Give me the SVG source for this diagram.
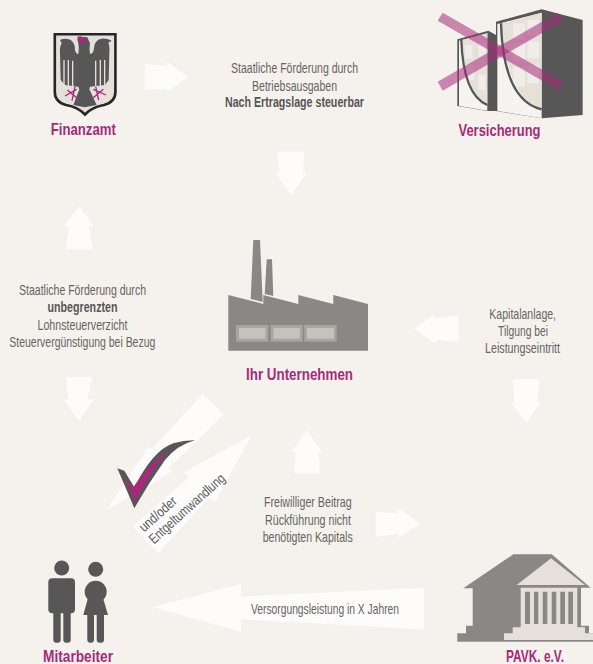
<svg xmlns="http://www.w3.org/2000/svg" width="593" height="664" viewBox="0 0 593 664">
<style>
text{font-family:"Liberation Sans Narrow","Liberation Sans",Arial,sans-serif;text-anchor:middle}
.t{font-size:14.500px;fill:#66645f}
.r{font-size:14px;fill:#5a5a5a}
.b{font-weight:700;fill:#555}
.h{font-size:16.500px;font-weight:700;fill:#a52b78}
.a{fill:#fdfcfb}
.d{fill:#575757}
.g{fill:#8a8884}
.w{fill:#f3f0ec;opacity:.75}
</style>
<rect width="593" height="664" fill="#f5f2ee"/>
<g id="connectors">
<path class="a" d="M145 64.300L167 65.700V61.700L188 77L167 91.700V88.700L145 90Z"/>
<path class="a" d="M277.300 151.700H304.300L302.700 173.300H306.700L291 195L276 173.300H279.300Z"/>
<path class="a" d="M79 206L94 226.700H89L92.300 249.300H65.700L69 226.700H64Z"/>
<path class="a" d="M65.700 377H92.300L87.300 399.300H94L79 420.700L63.300 399.300H68.300Z"/>
<path class="a" d="M458.300 315.700V341.700L436 340V344L414 329L435 314V318Z"/>
<path class="a" d="M512.700 379.300H539.300L537.300 401.700H541L526 423.300L511 401.700H514.300Z"/>
<path class="a" d="M306.700 430L322.300 451.700H318.300L320.300 473.300H294L295.700 451.700H291.700Z"/>
<path class="a" d="M375.700 511.700L398 513.300V508.300L420 523.300L398 538.300V534L375.700 536.700Z"/>
<path class="a" d="M152.700 607.300L241 584V596.700L424 587.700V629.300L241 619.300V631.700Z"/>
<path class="a" d="M202.700 394L224 414.300L168.300 468.300L171.700 471.700L106.700 510L148.300 446.700L151.700 449.300Z"/>
<path class="a" d="M251.700 435L215 501.700L209.300 497.300L158.300 553.300L132.700 526.700L189.300 476.700L184 472.300Z"/>
</g>
<g id="finanzamt">
<path d="M54.800 34.300H115.400V92Q115.400 102 104 105Q92 107 85 114.500Q78 107 66 105Q54.800 102 54.800 92Z" fill="#e6e0da" stroke="#262626" stroke-width="2.600"/>
<g transform="translate(50 30) scale(.3333)">
<path class="d" d="M30 30Q45 22 62 30Q75 38 75 60Q78 72 85 72Q88 55 85 40L82 28Q95 18 112 22L120 40Q117 60 120 72Q130 72 132 55Q133 35 148 28Q165 22 185 32L175 38Q180 50 178 70L176 150L165 165L120 170L118 178L140 225L104 232L70 225L88 178L85 170L45 165L32 150L30 70Q28 50 35 40Z"/>
<path d="M42 90V165M55 90V168M68 92V168M137 92V168M151 90V168M164 90V165" stroke="#e6e0da" stroke-width="4" fill="none"/>
<path d="M82 20Q95 16 98 22L108 34L92 42L84 32Z" fill="#a52b78"/>
<path d="M45 198L80 178M75 170L66 212M52 180L82 205M168 195L130 178M137 170L146 210M160 178L130 203" stroke="#a52b78" stroke-width="4" fill="none"/>
</g>
<text class="h" x="83.300" y="135" textLength="65" lengthAdjust="spacingAndGlyphs">Finanzamt</text>
</g>
<g id="versicherung">
<g transform="translate(420 0) scale(.3333)">
<path class="d" d="M112 118L205 92L228 105V65L365 28L488 60V345L365 355L228 333L202 333L112 318Z"/>
<path d="M117 122L202 100V332L117 318Z" fill="#f6f4f1"/>
<path d="M232 72L365 38V355L232 333Z" fill="#f6f4f1"/>
<path d="M128 120Q135 280 202 312V100Z" fill="#e7e0d9"/>
<path d="M245 70L365 38V325Q262 300 245 70Z" fill="#e7e0d9"/>
<path class="w" d="M135 135H157V175H135ZM175 130H197V170H175ZM175 225H197V270H175ZM140 195H162V240H140ZM280 70H315V118H280ZM322 60H357V105H322ZM280 130H315V180H280ZM322 125H357V175H322ZM322 195H357V250H322ZM280 200H315V260H280Z"/>
<path d="M243 70Q250 300 365 328" fill="none" stroke="#575757" stroke-width="7"/>
<path d="M124 120Q130 285 202 315" fill="none" stroke="#575757" stroke-width="7"/>
<path d="M68 38L53 62L415 270L430 245Z" fill="#a52b78" opacity=".55"/>
<path d="M53 245L68 272L430 62L413 38Z" fill="#a52b78" opacity=".55"/>
</g>
<text class="h" x="499.500" y="136" textLength="82" lengthAdjust="spacingAndGlyphs">Versicherung</text>
</g>
<g id="unternehmen">
<path class="g" d="M253.300 240H260L262.700 302L250.700 299Z"/>
<path class="g" d="M266.700 259.300H272L273.300 296L264.700 294Z"/>
<path class="g" d="M228.300 295L263.300 304V295L298.300 304V295L333.300 304V295L368 304V350.700H228.300Z"/>
<rect x="236" y="325" width="32.300" height="16.700" fill="#a9a69f"/>
<rect x="270.700" y="325" width="32" height="16.700" fill="#a9a69f"/>
<rect x="304.300" y="325" width="32.400" height="16.700" fill="#a9a69f"/>
<rect x="239" y="328" width="26.300" height="10.700" fill="#c3c2bc"/>
<rect x="273.500" y="328" width="26.400" height="10.700" fill="#c3c2bc"/>
<rect x="307" y="328" width="27" height="10.700" fill="#c3c2bc"/>
<text class="h" x="299.500" y="380" textLength="107" lengthAdjust="spacingAndGlyphs">Ihr Unternehmen</text>
</g>
<g id="haken" transform="translate(90 380) scale(.3333)">
<path class="d" d="M82 265L103 272L133 322Q190 210 250 190Q285 180 315 181Q262 195 225 240Q175 310 133 385Z"/>
<path d="M103 295L130 322Q180 245 240 207Q190 260 135 365Z" fill="#a52b78"/>
</g>
<g id="mitarbeiter">
<circle class="d" cx="61.700" cy="568" r="7.500"/>
<rect class="d" x="48.300" y="578.300" width="26.700" height="35" rx="4"/>
<rect class="d" x="53.300" y="605" width="7.400" height="37.700" rx="3"/>
<rect class="d" x="63.300" y="605" width="7.400" height="37.700" rx="3"/>
<circle class="d" cx="95.700" cy="569.300" r="7.500"/>
<circle class="d" cx="95.700" cy="591.700" r="11"/>
<path class="d" d="M88 598H103L108 615H83.300Z"/>
<rect class="d" x="87.300" y="610" width="6.700" height="32.700" rx="3"/>
<rect class="d" x="96.700" y="610" width="7.300" height="32.700" rx="3"/>
<text class="h" x="78" y="662" textLength="70" lengthAdjust="spacingAndGlyphs">Mitarbeiter</text>
</g>
<g id="pavk">
<path class="g" d="M463.300 588.300L513.300 554.300H551.700L590.700 587.700H581V625.700H589V633.300H593V641.700H457.300V633.300H466V625.700H472.700V588.300Z"/>
<path d="M516.700 585L551 558.300L585 585Z" fill="#e6e0da"/>
<path d="M520.700 587.700H577.300V627.300H585V633.300H593V640H504V633.300H512.700V627.300H520.700Z" fill="#e6e0da"/>
<path class="g" d="M525 591.700H530V624H525ZM534 591.700H538.300V624H534ZM542.700 591.700H547.300V624H542.700ZM551.700 591.700H556.300V624H551.700ZM560.300 591.700H565V624H560.300ZM568.300 591.700H573V624H568.300Z"/>
<text class="h" x="535" y="662" textLength="58" lengthAdjust="spacingAndGlyphs">PAVK. e.V.</text>
</g>
<g id="labels">
<text class="t" x="294.500" y="73" textLength="127" lengthAdjust="spacingAndGlyphs">Staatliche Förderung durch</text>
<text class="t" x="294.500" y="91" textLength="85" lengthAdjust="spacingAndGlyphs">Betriebsausgaben</text>
<text class="t b" x="294.500" y="107" textLength="139" lengthAdjust="spacingAndGlyphs">Nach Ertragslage steuerbar</text>
<text class="t" x="82.500" y="295" textLength="127" lengthAdjust="spacingAndGlyphs">Staatliche Förderung durch</text>
<text class="t b" x="82.500" y="311.700" textLength="70" lengthAdjust="spacingAndGlyphs">unbegrenzten</text>
<text class="t" x="82.500" y="330" textLength="90" lengthAdjust="spacingAndGlyphs">Lohnsteuerverzicht</text>
<text class="t" x="82.300" y="346.700" textLength="146" lengthAdjust="spacingAndGlyphs">Steuervergünstigung bei Bezug</text>
<text class="t" x="522.700" y="319" textLength="66.700" lengthAdjust="spacingAndGlyphs">Kapitalanlage,</text>
<text class="t" x="523" y="335.700" textLength="50" lengthAdjust="spacingAndGlyphs">Tilgung bei</text>
<text class="t" x="522.500" y="353" textLength="75" lengthAdjust="spacingAndGlyphs">Leistungseintritt</text>
<text class="t" x="307.800" y="507.300" textLength="87.700" lengthAdjust="spacingAndGlyphs">Freiwilliger Beitrag</text>
<text class="t" x="308" y="525" textLength="86" lengthAdjust="spacingAndGlyphs">Rückführung nicht</text>
<text class="t" x="307.700" y="541.700" textLength="90" lengthAdjust="spacingAndGlyphs">benötigten Kapitals</text>
<text class="t" x="325" y="614" textLength="148" lengthAdjust="spacingAndGlyphs">Versorgungsleistung in X Jahren</text>
<text class="r" transform="translate(161 517.500) rotate(-42)" textLength="45" lengthAdjust="spacingAndGlyphs">und/oder</text>
<text class="r" transform="translate(190 512) rotate(-42)" textLength="97" lengthAdjust="spacingAndGlyphs">Entgeltumwandlung</text>
</g>
</svg>
